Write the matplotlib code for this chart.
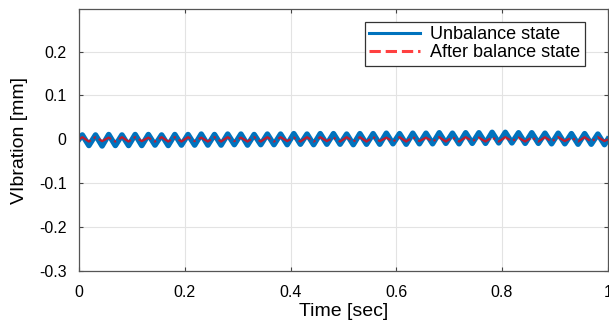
import numpy as np
import matplotlib
matplotlib.use("Agg")
import matplotlib.pyplot as plt

plt.rcParams['font.family'] = ['Liberation Sans', 'DejaVu Sans']

# signal: about 40 cycles per second
period = 0.025
# peak / trough values of each cycle [mm]
unbal_peak = [0.010, 0.010, 0.011, 0.010, 0.011, 0.011, 0.010, 0.011, 0.011, 0.012,
              0.011, 0.012, 0.012, 0.011, 0.012, 0.012, 0.013, 0.012, 0.013, 0.013,
              0.012, 0.013, 0.013, 0.014, 0.013, 0.014, 0.014, 0.015, 0.014, 0.015,
              0.015, 0.016, 0.016, 0.015, 0.015, 0.014, 0.014, 0.013, 0.013, 0.012]
unbal_trough = [-0.014, -0.015, -0.014, -0.014, -0.014, -0.013, -0.014, -0.013, -0.013, -0.013,
                -0.013, -0.012, -0.013, -0.012, -0.012, -0.012, -0.011, -0.012, -0.011, -0.011,
                -0.012, -0.011, -0.011, -0.010, -0.011, -0.010, -0.010, -0.009, -0.010, -0.009,
                -0.009, -0.008, -0.008, -0.009, -0.009, -0.010, -0.010, -0.011, -0.011, -0.012]
after_peak = [0.005, 0.005, 0.004, 0.005, 0.005, 0.004, 0.005, 0.005, 0.005, 0.004,
              0.005, 0.005, 0.004, 0.005, 0.005, 0.005, 0.004, 0.005, 0.005, 0.004,
              0.005, 0.005, 0.005, 0.004, 0.005, 0.005, 0.004, 0.005, 0.005, 0.005,
              0.004, 0.005, 0.005, 0.004, 0.005, 0.005, 0.005, 0.004, 0.005, 0.005]
after_trough = [-0.005, -0.004, -0.005, -0.005, -0.004, -0.005, -0.005, -0.005, -0.004, -0.005,
                -0.005, -0.004, -0.005, -0.005, -0.005, -0.004, -0.005, -0.005, -0.004, -0.005,
                -0.005, -0.005, -0.004, -0.005, -0.005, -0.004, -0.005, -0.005, -0.005, -0.004,
                -0.005, -0.005, -0.004, -0.005, -0.005, -0.005, -0.004, -0.005, -0.005, -0.004]
xticks = [0, 0.2, 0.4, 0.6, 0.8, 1]
yticks = [-0.3, -0.2, -0.1, 0, 0.1, 0.2]


def series(peaks, troughs):
    t = [0.0]
    y = [0.0]
    for k in range(len(peaks)):
        t += [k * period + period / 4, k * period + 3 * period / 4]
        y += [peaks[k], troughs[k]]
    t.append(len(peaks) * period)
    y.append(0.0)
    return np.array(t), np.array(y)


t1, y1 = series(unbal_peak, unbal_trough)
t2, y2 = series(after_peak, after_trough)

fig = plt.figure(figsize=(6.09, 3.23), dpi=100)
ax = fig.add_axes([0.1297, 0.161, 0.8683, 0.811])

ax.plot(t1, y1, color="#0072BD", linewidth=4, solid_joinstyle="round",
        label="Unbalance state")
ax.plot(t2, y2, color="red", linewidth=1.6, linestyle="-.", alpha=0.75,
        label="After balance state")

ax.set_xlim(0, 1)
ax.set_ylim(-0.3, 0.297)
ax.set_xticks(xticks)
ax.set_xticklabels(["0", "0.2", "0.4", "0.6", "0.8", "1"])
ax.set_yticks(yticks)
ax.set_yticklabels(["-0.3", "-0.2", "-0.1", "0", "0.1", "0.2"])
ax.grid(True, color="#e3e3e3", linewidth=0.8)
ax.set_axisbelow(True)
ax.tick_params(direction="in", top=True, right=True, labelsize=11.5,
               length=3, color="#444444")
ax.tick_params(axis="y", pad=9)
ax.tick_params(axis="x", pad=10)
for s in ax.spines.values():
    s.set_color("#555555")
    s.set_linewidth(0.9)

ax.set_xlabel("Time [sec]", fontsize=14, labelpad=2)
ax.set_ylabel("VIbration [mm]", fontsize=14, labelpad=8)

leg = ax.legend(loc="upper right", bbox_to_anchor=(0.957, 0.952), fontsize=13,
                frameon=True, fancybox=False, framealpha=1, borderpad=0.25,
                handlelength=2.8, labelspacing=0.05, borderaxespad=0,
                handletextpad=0.6)
leg.get_frame().set_edgecolor("#333333")
leg.get_frame().set_linewidth(0.9)
leg.get_lines()[0].set_linewidth(2.2)
leg.get_lines()[1].set_linewidth(2.2)
leg.get_lines()[1].set_linestyle("--")

fig.savefig("out.png", dpi=100)
